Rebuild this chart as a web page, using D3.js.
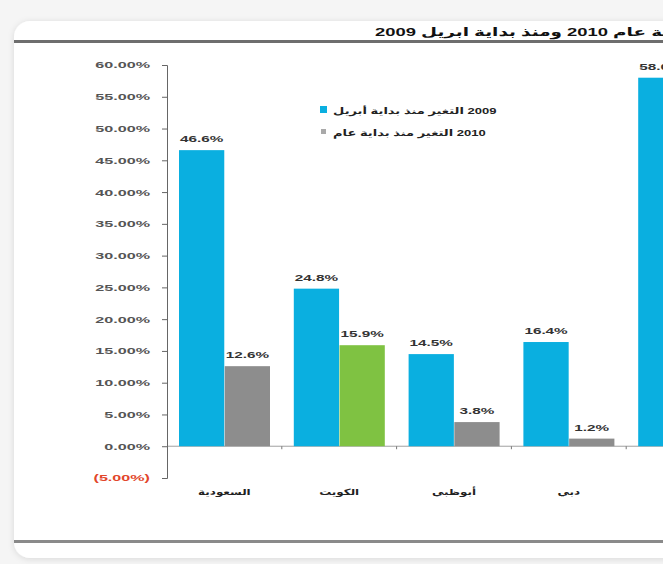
<!DOCTYPE html>
<html>
<head>
<meta charset="utf-8">
<script src="https://cdn.jsdelivr.net/npm/d3@7"></script>
<style>
  html, body { margin: 0; padding: 0; background: #f5f5f5; }
  svg { display: block; }
</style>
</head>
<body>
<svg width="663" height="564"></svg>
<script>
  // chart values
  const categories = ['السعودية', 'الكويت', 'أبوظبي', 'دبي', 'قطر'];
  const since2009 = [46.6, 24.8, 14.5, 16.4, 58.0];
  const since2010 = [12.6, 15.9, 3.8, 1.2, 6.0];
  const yTicks = [-5, 0, 5, 10, 15, 20, 25, 30, 35, 40, 45, 50, 55, 60];
  const seriesNames = ['2009 التغير منذ بداية أبريل', '2010 التغير منذ بداية عام'];
  const titleText = 'أداء أسواق الخليج منذ بداية عام 2010 ومنذ بداية ابريل 2009';

  const svg = d3.select('svg');
  const width = +svg.attr('width');
  const height = +svg.attr('height');

  const blue = '#0aafe0';
  const grey = '#8d8d8d';
  const green = '#7fc242';
  const font = '"Liberation Sans", "DejaVu Sans", Arial, sans-serif';

  // soft card shadow
  const defs = svg.append('defs');
  const f = defs.append('filter').attr('id', 'shadow')
    .attr('x', '-10%').attr('y', '-10%').attr('width', '120%').attr('height', '120%');
  f.append('feDropShadow').attr('dx', 0).attr('dy', 1)
    .attr('stdDeviation', 3).attr('flood-color', '#000').attr('flood-opacity', 0.12);

  svg.append('rect')
    .attr('x', 14).attr('y', 21)
    .attr('width', width + 40).attr('height', 537)
    .attr('rx', 16)
    .attr('fill', '#ffffff')
    .attr('filter', 'url(#shadow)');

  // title and its rules
  svg.append('rect').attr('x', 14).attr('y', 40).attr('width', width).attr('height', 3).attr('fill', '#6e6e6e');
  svg.append('rect').attr('x', 14).attr('y', 540).attr('width', width).attr('height', 3).attr('fill', '#8a8a8a');

  svg.append('g')
    .attr('transform', 'translate(375,36) scale(1.6,1)')
    .append('text')
      .attr('direction', 'rtl')
      .attr('text-anchor', 'end')
      .attr('font-family', font)
      .attr('font-weight', 'bold')
      .attr('font-size', 11.5)
      .attr('fill', '#111')
      .text(titleText);

  // helper for the wide, stretched lettering of the original
  const stretched = (sel, x, y, txt, opts) => {
    const { size, k, anchor = 'middle', fill = '#333', family = font, dir = null } = opts;
    return sel.append('text')
      .attr('transform', `translate(${x},${y}) scale(${k},1)`)
      .attr('direction', dir)
      .attr('text-anchor', anchor)
      .attr('font-family', family)
      .attr('font-weight', 'bold')
      .attr('font-size', size)
      .attr('fill', fill)
      .text(txt);
  };

  const margin = { top: 65, left: 167 };
  const yScale = d3.scaleLinear().domain([-5, 60]).range([478, 65]);

  const xScale = d3.scaleBand()
    .domain(categories)
    .range([margin.left, margin.left + categories.length * 114.8]);

  const inner = d3.scaleBand()
    .domain([0, 1])
    .range([12, 103])
    .paddingInner(0.01);

  const g = svg.append('g');

  // zero line
  g.append('line')
    .attr('x1', margin.left).attr('x2', width)
    .attr('y1', yScale(0)).attr('y2', yScale(0))
    .attr('stroke', '#a0a0a0').attr('stroke-width', 1);

  // x ticks between categories
  g.selectAll('.xtick').data(categories)
    .enter().append('line')
      .attr('class', 'xtick')
      .attr('x1', d => xScale(d) + xScale.bandwidth())
      .attr('x2', d => xScale(d) + xScale.bandwidth())
      .attr('y1', yScale(0)).attr('y2', yScale(0) + 3)
      .attr('stroke', '#777');

  // bars
  const rows = categories.map((c, i) => ({ c, i, v: [since2009[i], since2010[i]] }));
  const groups = g.selectAll('.grp').data(rows)
    .enter().append('g')
      .attr('class', 'grp')
      .attr('transform', d => `translate(${xScale(d.c)},0)`);

  groups.selectAll('rect').data(d => d.v.map((v, s) => ({ v, s, c: d.c })))
    .enter().append('rect')
      .attr('x', d => inner(d.s))
      .attr('width', inner.bandwidth())
      .attr('y', d => yScale(Math.max(0, d.v)))
      .attr('height', d => Math.abs(yScale(d.v) - yScale(0)))
      .attr('fill', d => d.s === 0 ? blue : (d.c === 'الكويت' ? green : grey));

  groups.each(function (d) {
    const sel = d3.select(this);
    d.v.forEach((v, s) => {
      stretched(sel, inner(s) + inner.bandwidth() / 2, yScale(v) - 8,
        v.toFixed(1) + '%', { size: 8.5, k: 1.8, fill: '#333' });
    });
    stretched(sel, xScale.bandwidth() / 2, 495, d.c,
      { size: 8.5, k: 1.4, fill: '#222', family: '"DejaVu Sans", sans-serif' });
  });

  // y axis
  const yAxis = d3.axisLeft(yScale)
    .tickValues(yTicks)
    .tickSize(5)
    .tickFormat(v => v < 0 ? `(${Math.abs(v).toFixed(2)}%)` : `${v.toFixed(2)}%`);

  const yAxisG = svg.append('g')
    .attr('transform', `translate(${margin.left},0)`)
    .call(yAxis);
  yAxisG.select('.domain').attr('stroke', '#666');
  yAxisG.selectAll('.tick line').attr('stroke', '#666');
  yAxisG.selectAll('.tick text')
    .attr('x', null)
    .attr('dy', '0.35em')
    .attr('transform', 'translate(-17,0) scale(1.9,1)')
    .attr('font-family', font)
    .attr('font-weight', 'bold')
    .attr('font-size', 8.5)
    .attr('fill', d => d < 0 ? '#e2462b' : '#555');

  // legend
  const legend = svg.append('g').attr('transform', 'translate(320,0)');
  legend.append('rect').attr('x', 0).attr('y', 106).attr('width', 7).attr('height', 7).attr('fill', blue);
  legend.append('rect').attr('x', 1).attr('y', 129).attr('width', 5).attr('height', 5).attr('fill', '#a9a9a9');
  seriesNames.forEach((name, i) => {
    // rtl run with the year first puts the year at the right end, as in the original
    stretched(legend, 13, 114 + i * 22, name,
      { size: 9, k: 1.45, anchor: 'end', dir: 'rtl', fill: '#222' });
  });
</script>
</body>
</html>
